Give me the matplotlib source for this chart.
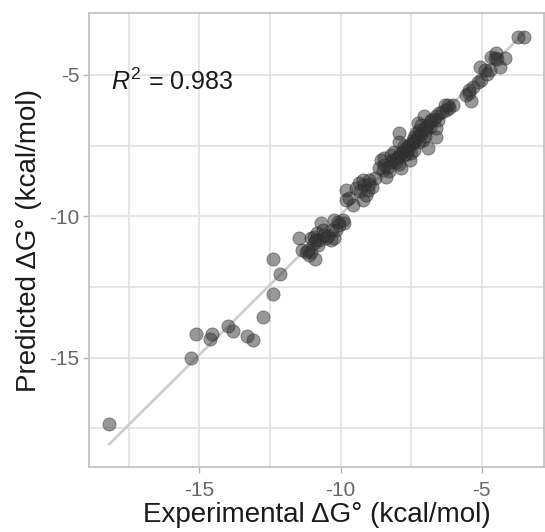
import numpy as np
import matplotlib.pyplot as plt
from matplotlib.ticker import MultipleLocator

plt.rcParams['font.family'] = ['Liberation Sans', 'DejaVu Sans']
plt.rcParams['axes.unicode_minus'] = False
plt.rcParams['mathtext.fontset'] = 'custom'
plt.rcParams['mathtext.rm'] = 'Liberation Sans'
plt.rcParams['mathtext.it'] = 'Liberation Sans:italic'

# experimental vs predicted binding free energies (kcal/mol)
exp_dg = [
    -18.20, -15.30, -15.13, -14.63, -14.54, -13.99, -13.80, -13.30, -13.12, -12.74,
    -12.38, -12.15, -12.40,
    -11.46, -11.37, -11.23, -11.05, -11.11, -10.90, -11.05, -10.93, -10.82, -10.69,
    -10.64, -10.87, -10.52, -10.34, -10.22, -10.22, -10.11, -9.93, -10.16, -9.87,
    -9.81, -9.69, -9.57, -9.45, -9.34, -9.22, -9.16, -9.10,
    -9.81, -9.22, -9.04, -8.98, -8.80, -8.63, -8.57, -8.39, -8.45, -8.21,
    -8.10, -8.04, -7.92, -7.86, -7.74, -7.68, -7.56, -7.50, -7.45, -7.39,
    -7.33, -7.27, -7.21, -7.09, -7.03, -6.97, -6.91, -6.85, -6.79, -6.62,
    -6.62, -6.50, -6.32, -6.26, -8.21, -8.33, -8.51, -7.98, -7.62, -7.39,
    -7.21, -7.92, -7.15, -6.62,
    -6.15, -6.03, -5.55, -5.38, -5.44, -5.32, -5.14, -5.02, -5.08, -4.90,
    -4.72, -4.67, -4.55, -4.49, -4.37, -4.19, -3.72, -3.49,
    -8.15, -8.00, -7.90, -7.80, -7.70, -7.60, -7.55, -7.45, -7.35, -7.25,
    -7.15, -7.05, -6.95, -6.85, -6.70, -8.30, -8.45, -7.95, -7.75, -7.00,
    -6.55, -6.40, -6.20,
    -10.95, -10.75, -10.60, -10.45, -10.80, -11.15, -10.30, -10.05,
    -9.00, -8.90, -9.30, -4.45, -4.80, -5.45,
]
pred_dg = [
    -17.35, -15.02, -14.17, -14.35, -14.16, -13.88, -14.05, -14.23, -14.37, -13.57,
    -12.76, -12.06, -11.52,
    -10.76, -11.19, -11.25, -11.25, -11.37, -11.52, -10.78, -10.72, -10.60, -10.25,
    -10.48, -10.84, -10.78, -10.84, -10.78, -10.13, -10.19, -10.13, -10.48, -10.25,
    -9.07, -9.36, -9.60, -9.01, -8.83, -9.42, -8.89, -9.24,
    -9.42, -8.71, -9.07, -8.71, -8.65, -8.30, -8.01, -8.60, -7.95, -7.83,
    -7.71, -8.07, -7.36, -8.30, -7.83, -7.59, -8.01, -7.77, -7.42, -7.18,
    -7.06, -6.71, -6.95, -7.30, -6.47, -6.95, -7.59, -6.83, -6.59, -7.18,
    -6.47, -6.35, -6.06, -6.24, -8.07, -8.24, -8.36, -7.89, -7.54, -7.65,
    -7.36, -7.06, -6.77, -6.89,
    -6.18, -6.06, -5.71, -5.94, -5.53, -5.41, -5.24, -5.18, -4.71, -4.82,
    -4.82, -4.35, -4.41, -4.23, -4.71, -4.41, -3.65, -3.65,
    -8.00, -7.95, -7.80, -7.70, -7.80, -7.65, -7.45, -7.30, -7.35, -7.20,
    -7.10, -6.90, -6.80, -6.65, -6.55, -8.40, -8.20, -8.15, -7.50, -7.15,
    -6.60, -6.30, -6.05,
    -10.95, -10.85, -10.65, -10.70, -11.00, -11.20, -10.50, -10.30,
    -8.85, -8.95, -9.10, -4.45, -4.95, -5.65,
]
r2_label = '0.983'

x = np.array(exp_dg)
y = np.array(pred_dg)
slope, intercept = np.polyfit(x, y, 1)
xfit = np.array([x.min(), x.max()])

fig = plt.figure(figsize=(5.45, 5.32), dpi=100)
ax = fig.add_axes([0.164, 0.1227, 0.834, 0.8523])

ax.plot(xfit, slope * xfit + intercept, color='#cccccc', lw=1.9, zorder=2)
ax.scatter(x, y, s=90, color='#333333', alpha=0.5, edgecolors='#2a2a2a',
           linewidths=0.6, zorder=3)

ax.text(-18.15, -5.25, r'$R^2$ = ' + r2_label, fontsize=18, ha='left', va='center',
        color='#1a1a1a')

ax.set_xlim(-18.9, -2.8)
ax.set_ylim(-18.86, -2.82)
ax.xaxis.set_minor_locator(MultipleLocator(2.5))
ax.yaxis.set_minor_locator(MultipleLocator(2.5))
ax.set_xticks([-15, -10, -5])
ax.set_yticks([-15, -10, -5])
ax.grid(True, which='both', color='#dedede', lw=1.1, zorder=0)
ax.set_axisbelow(True)
ax.tick_params(which='major', length=4, width=1, color='#b3b3b3',
               labelsize=15, labelcolor='#666666')
ax.tick_params(axis='x', pad=6)
ax.tick_params(axis='y', pad=3)
ax.tick_params(which='minor', length=0)
for s in ax.spines.values():
    s.set_color('#bdbdbd')
    s.set_linewidth(1.2)

ax.set_xlabel('Experimental ΔG° (kcal/mol)', fontsize=20, color='#1a1a1a', labelpad=2)
ax.set_ylabel('Predicted ΔG° (kcal/mol)', fontsize=20, color='#1a1a1a', labelpad=5)

fig.savefig('out.png', dpi=100)
